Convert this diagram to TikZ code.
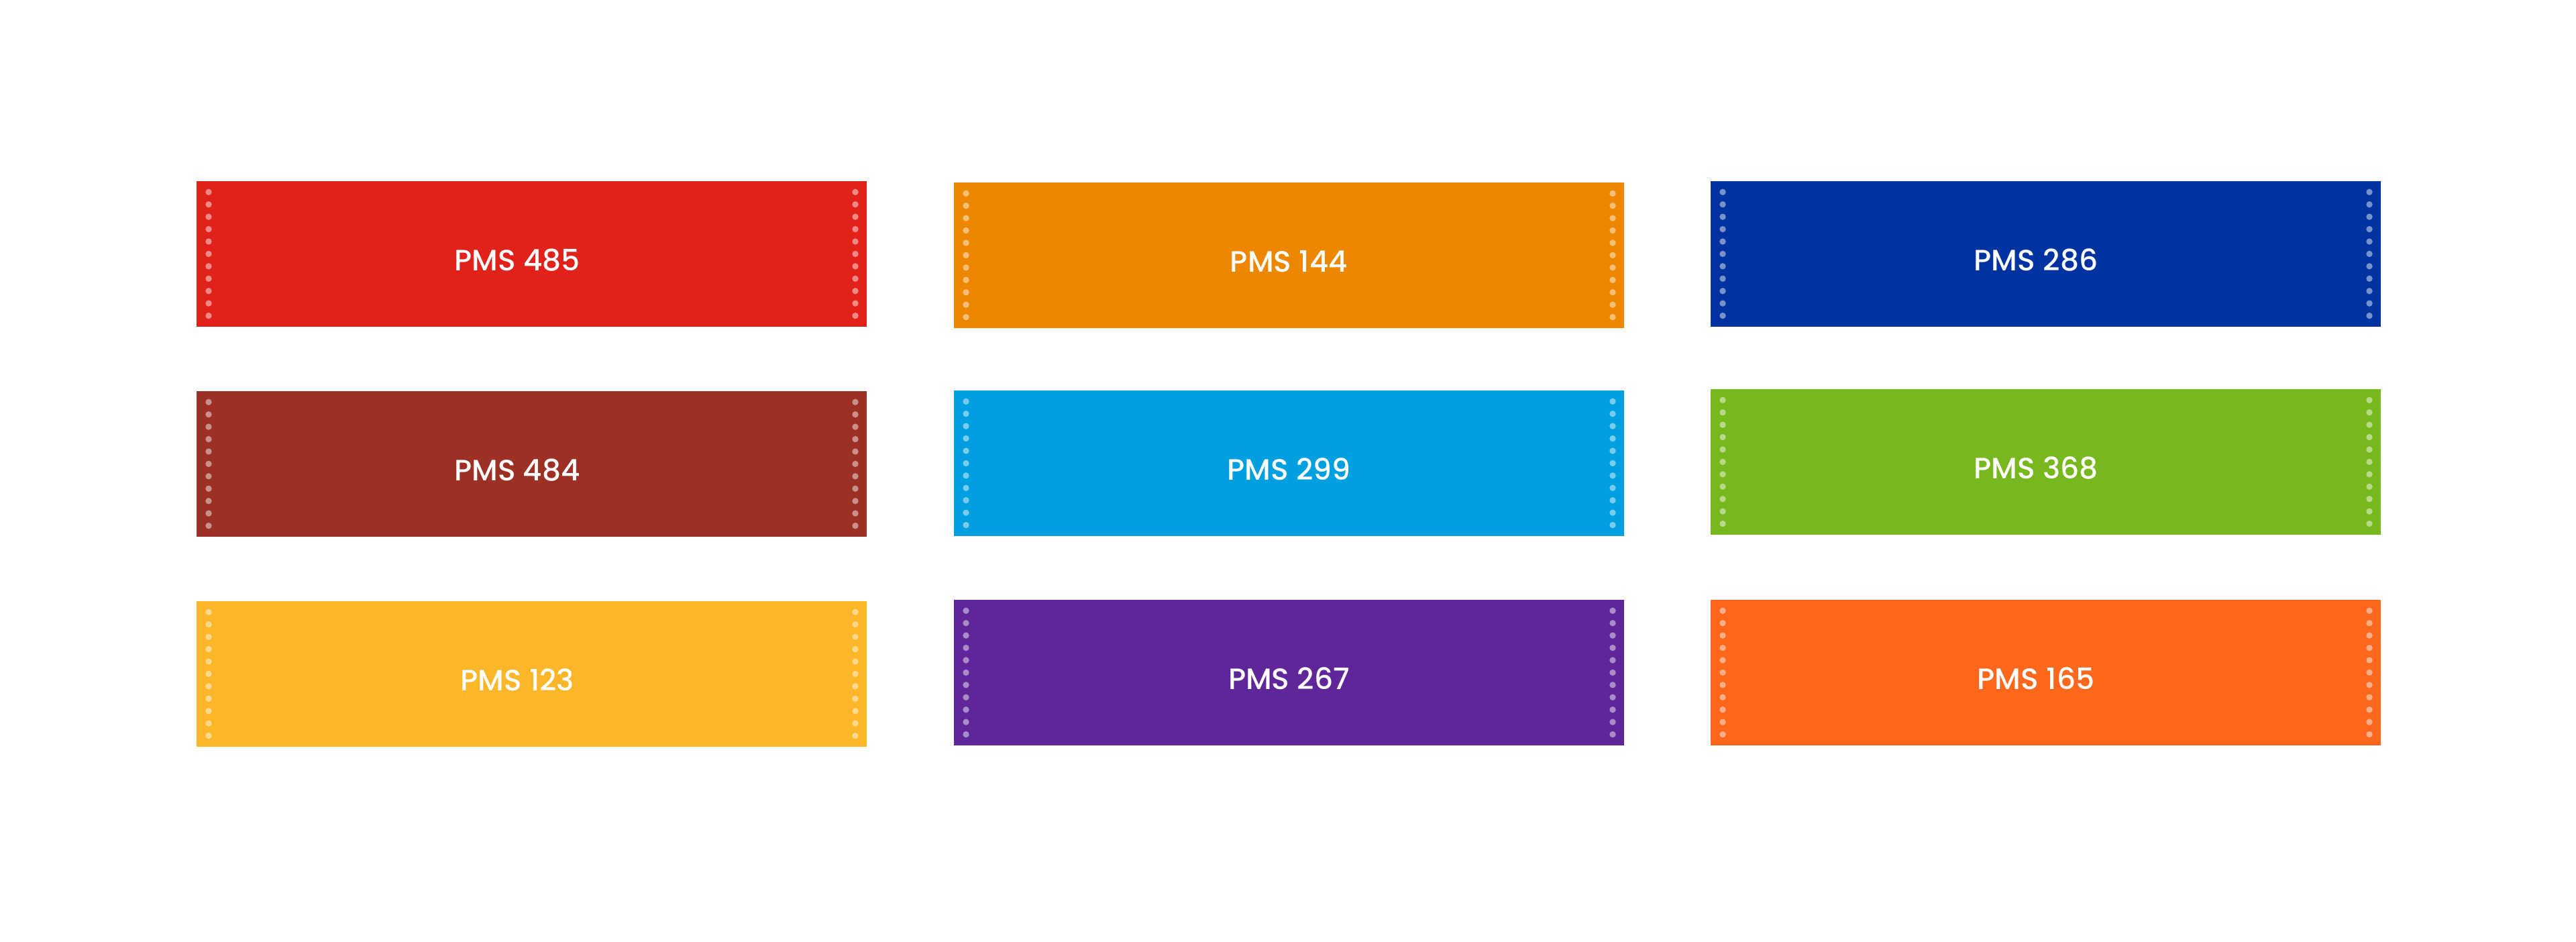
\documentclass[tikz,border=0pt]{standalone}
\usepackage{fontspec}
\setmainfont{Poppins}
\newfontfamily\pmsfont{Poppins Medium}
\usepackage{tikz}

\definecolor{pmsA}{HTML}{E0221B}% PMS 485
\definecolor{pmsB}{HTML}{EE8700}% PMS 144
\definecolor{pmsC}{HTML}{0033A0}% PMS 286
\definecolor{pmsD}{HTML}{9C3024}% PMS 484
\definecolor{pmsE}{HTML}{009FDF}% PMS 299
\definecolor{pmsF}{HTML}{78B81F}% PMS 368
\definecolor{pmsG}{HTML}{FBB629}% PMS 123
\definecolor{pmsH}{HTML}{5F2699}% PMS 267
\definecolor{pmsI}{HTML}{FF671D}% PMS 165

\begin{document}
\begin{tikzpicture}[swatch/.style={rectangle,inner sep=0pt,minimum width=9.99cm,minimum height=2.17cm,
					path picture={\foreach \k in {0,...,10}{
						\fill[white,fill opacity=.47] ([xshift=.18cm,yshift={-(.163+\k*.1843)*1cm}]path picture bounding box.north west) circle (.047cm);
						\fill[white,fill opacity=.47] ([xshift=-.17cm,yshift={-(.163+\k*.1843)*1cm}]path picture bounding box.north east) circle (.047cm);}}},
				pmstext/.style={anchor=base,text=white,font=\pmsfont\fontsize{12.5}{15}\selectfont}]
	\useasboundingbox (0,0) rectangle (38.4,14.04);
	% first row
	\node[swatch,fill=pmsA] (S485) at (7.925,10.255) {};
	\node[swatch,fill=pmsB] (S144) at (19.215,10.235) {};
	\node[swatch,fill=pmsC] (S286) at (30.495,10.255) {};
	% second row
	\node[swatch,fill=pmsD] (S484) at (7.925,7.125) {};
	\node[swatch,fill=pmsE] (S299) at (19.215,7.135) {};
	\node[swatch,fill=pmsF] (S368) at (30.495,7.155) {};
	% third row
	\node[swatch,fill=pmsG] (S123) at (7.925,3.995) {};
	\node[swatch,fill=pmsH] (S267) at (19.215,4.015) {};
	\node[swatch,fill=pmsI] (S165) at (30.495,4.015) {};
	% names
	\node[pmstext] (T485) at ([shift={(-.215,-.255)}]S485.center) {PMS 485};
	\node[pmstext] (T144) at ([shift={(0,-.255)}]S144.center) {PMS 144};
	\node[pmstext] (T286) at ([shift={(-.145,-.255)}]S286.center) {PMS 286};
	\node[pmstext] (T484) at ([shift={(-.215,-.255)}]S484.center) {PMS 484};
	\node[pmstext] (T299) at ([shift={(0,-.255)}]S299.center) {PMS 299};
	\node[pmstext] (T368) at ([shift={(-.145,-.255)}]S368.center) {PMS 368};
	\node[pmstext] (T123) at ([shift={(-.215,-.255)}]S123.center) {PMS 123};
	\node[pmstext] (T267) at ([shift={(0,-.255)}]S267.center) {PMS 267};
	\node[pmstext] (T165) at ([shift={(-.145,-.255)}]S165.center) {PMS 165};
\end{tikzpicture}
\end{document}
